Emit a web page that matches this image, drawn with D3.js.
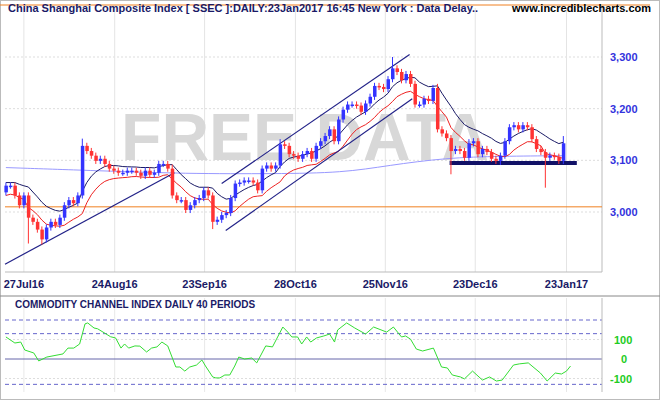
<!DOCTYPE html>
<html><head><meta charset="utf-8">
<script src="https://cdn.jsdelivr.net/npm/d3@7"></script>
<style>body{margin:0;background:#fff}svg{display:block}text{font-family:Arial,"Liberation Sans",sans-serif;font-weight:bold}</style>
</head><body><svg id="c" width="660" height="400"></svg>
<script>
const closes=[3051,3051,3032,3013,3032,2989,2981,2966,2947,2970,2981,2975,2989,3013,3023,3017,3032,3128,3118,3109,3099,3103,3093,3084,3080,3076,3076,3080,3080,3076,3070,3080,3072,3076,3093,3093,3084,3032,3023,3023,3004,3013,3023,3027,3042,3032,2981,2985,2994,2998,3027,3055,3057,3061,3061,3057,3042,3084,3090,3084,3090,3131,3128,3112,3109,3103,3112,3118,3103,3128,3137,3147,3160,3137,3179,3198,3208,3208,3206,3194,3210,3223,3244,3242,3238,3257,3278,3271,3255,3267,3248,3208,3208,3219,3215,3240,3160,3152,3143,3118,3122,3118,3105,3133,3137,3112,3122,3116,3103,3099,3109,3137,3164,3168,3160,3168,3164,3141,3122,3116,3105,3109,3107,3099,3133];
const firstOpen=3038;
const upWick={8:6,17:14,37:8,61:10,86:22,96:8,103:8,124:14};
const loWick={5:50,8:10,46:14,99:45,120:58,110:8};
const longMA=[[0,3086],[20,3080],[40,3074],[60,3074],[75,3076],[85,3090],[98,3105],[110,3108],[124,3109]];
const trendLines=[[[-0.2,2899],[37.5,3076]],[[48,3055],[89.8,3305]],[[48.9,2964],[90.4,3219]]];
const supportLine=[[98.7,3095],[127,3095]];
const refLevel=3010;
const priceTicks=[3000,3100,3200,3300];
const dateTicks=[[4,"27Jul16"],[24.2,"24Aug16"],[44.2,"23Sep16"],[64.4,"28Oct16"],[84.4,"25Nov16"],[104.4,"23Dec16"],[124.7,"23Jan17"]];
const cciIdx=[0,2,3.3,4.2,6.2,7.3,9.1,12.7,13.8,15.1,16.4,17.6,18.2,19.6,20.4,23.3,24.4,25.6,26.4,27.3,28.7,29.8,31.3,32.4,33.6,34.7,36,37.8,38.7,39.8,40.9,42.4,43.6,44.4,46,46.7,47.6,48.7,49.8,50.9,51.8,53.1,54.7,55.8,57.8,59.3,60.2,61.6,62.7,63.6,64.9,65.8,66.9,67.8,69.1,70.7,72,73.1,73.8,75.8,77.6,80,81.8,84.7,86.2,88,88.9,90,91.3,92.7,95.1,96.9,98.2,99.3,101.1,102,103.8,106,107.6,109.1,110.4,112.9,114.2,116.2,118.9,120.4,122.2,123.6,124.7,125.6];
const cciVal=[113,82,87,46,31,-10,10,26,56,56,77,180,185,159,155,114,108,56,77,56,67,66,36,56,62,87,67,-41,-41,-62,-41,-31,-5,-36,-92,-97,-97,-82,-82,-36,10,0,5,-20,67,62,102,164,138,113,113,77,113,87,108,118,128,87,149,185,159,128,164,138,164,113,118,102,51,41,56,-41,-46,-82,-92,-102,-62,-108,-92,-113,-108,-31,-25,-20,-72,-113,-72,-77,-62,-36];
const cciTicks=[100,0,-100];
const cciBands=[200,130,-130];

const svg=d3.select("#c");
const x=d3.scaleLinear().domain([-0.2,132.6]).range([5,602]);
const y=d3.scaleLinear().domain([3000,3300]).range([212,57]);
const yc=d3.scaleLinear().domain([-100,100]).range([378.5,339.5]);
svg.append("rect").attr("x",0.5).attr("y",0.5).attr("width",659).attr("height",399).attr("fill","none").attr("stroke","#bbb");
priceTicks.forEach(t=>svg.append("line").attr("x1",5).attr("x2",602).attr("y1",y(t)).attr("y2",y(t)).attr("stroke","#ddd").attr("stroke-dasharray","2,2"));
dateTicks.forEach(d=>{svg.append("line").attr("x1",x(d[0])).attr("x2",x(d[0])).attr("y1",8).attr("y2",272).attr("stroke","#e4e4e4");
 svg.append("line").attr("x1",x(d[0])).attr("x2",x(d[0])).attr("y1",298).attr("y2",392).attr("stroke","#e8e8e8");});
svg.append("text").attr("x",305).attr("y",160).attr("text-anchor","middle").attr("font-size",66).attr("fill","#d8d8d8").text("FREE DATA");
svg.append("line").attr("x1",602).attr("x2",602).attr("y1",6).attr("y2",272).attr("stroke","#bbb");
svg.append("line").attr("x1",5).attr("x2",602).attr("y1",272).attr("y2",272).attr("stroke","#bbb");
svg.append("line").attr("x1",0).attr("x2",660).attr("y1",296).attr("y2",296).attr("stroke","#888");
svg.append("line").attr("x1",0).attr("x2",650).attr("y1",5).attr("y2",5).attr("stroke","#f08020");
svg.append("line").attr("x1",5).attr("x2",602).attr("y1",y(refLevel)).attr("y2",y(refLevel)).attr("stroke","#f08020");
const ln=d3.line().x(d=>x(d[0])).y(d=>y(d[1]));
svg.append("path").attr("d",ln.curve(d3.curveBasis)(longMA)).attr("fill","none").attr("stroke","#9999ff");
const opens=closes.map((c,i)=>i?closes[i-1]:firstOpen);
const highs=closes.map((c,i)=>Math.max(c,opens[i])+(upWick[i]||6));
const lows=closes.map((c,i)=>Math.min(c,opens[i])-(loWick[i]||6));
function ema(a,n){const k=2/(n+1);let e=a[0];return a.map(v=>e=v*k+e*(1-k));}
const navy=ema(highs,10), red=ema(lows,10);
ln.curve(d3.curveLinear);
svg.append("path").attr("d",ln(red.map((v,i)=>[i,v]))).attr("fill","none").attr("stroke","#ee2222");
svg.append("path").attr("d",ln(navy.map((v,i)=>[i,v]))).attr("fill","none").attr("stroke","#1a1a66");
trendLines.forEach(t=>svg.append("path").attr("d",ln(t)).attr("stroke","#222288").attr("stroke-width",1.2).attr("fill","none"));
svg.append("path").attr("d",ln(supportLine)).attr("stroke","#111166").attr("stroke-width",4);
const g=svg.append("g");
closes.forEach((c,i)=>{const col=c>=opens[i]?"#3333ff":"#ff3333";
 g.append("line").attr("x1",x(i)).attr("x2",x(i)).attr("y1",y(highs[i])).attr("y2",y(lows[i])).attr("stroke",col);
 const t=y(Math.max(c,opens[i])),b=y(Math.min(c,opens[i]));
 g.append("rect").attr("x",x(i)-1.5).attr("y",t).attr("width",3.5).attr("height",Math.max(1.5,b-t)).attr("fill",col);});
priceTicks.forEach(t=>svg.append("text").attr("x",610).attr("y",y(t)+4).attr("font-size",11).attr("fill","#3333dd").text(d3.format(",")(t)));
dateTicks.forEach(d=>svg.append("text").attr("x",x(d[0])).attr("y",288).attr("text-anchor","middle").attr("font-size",11).attr("fill","#1a1a66").text(d[1]));
svg.append("text").attr("x",8).attr("y",12).attr("font-size",11).attr("fill","#1a1a66").text("China Shanghai Composite Index [ SSEC ]:DAILY:23Jan2017 16:45 New York : Data Delay..");
svg.append("text").attr("x",651).attr("y",12).attr("text-anchor","end").attr("font-size",11).attr("fill","#000").text("www.incrediblecharts.com");
svg.append("text").attr("x",15).attr("y",308).attr("font-size",10).attr("fill","#1a1a66").text("COMMODITY CHANNEL INDEX DAILY 40 PERIODS");
cciTicks.filter(t=>t).forEach(t=>svg.append("line").attr("x1",5).attr("x2",602).attr("y1",yc(t)).attr("y2",yc(t)).attr("stroke","#ddd").attr("stroke-dasharray","2,2"));
cciBands.forEach(t=>svg.append("line").attr("x1",5).attr("x2",602).attr("y1",yc(t)).attr("y2",yc(t)).attr("stroke","#6666cc").attr("stroke-dasharray","4,3"));
svg.append("line").attr("x1",5).attr("x2",602).attr("y1",yc(0)).attr("y2",yc(0)).attr("stroke","#6666aa");
svg.append("line").attr("x1",602).attr("x2",602).attr("y1",298).attr("y2",392).attr("stroke","#bbb");
svg.append("path").attr("d",d3.line().x(d=>x(d[0])).y(d=>yc(d[1]))(cciIdx.map((v,i)=>[v,cciVal[i]]))).attr("fill","none").attr("stroke","#33dd33");
cciTicks.forEach(t=>svg.append("text").attr("x",t<0?610:(t?614:621)).attr("y",yc(t)+4).attr("font-size",11).attr("fill","#22cc22").text(t));
</script></body></html>
